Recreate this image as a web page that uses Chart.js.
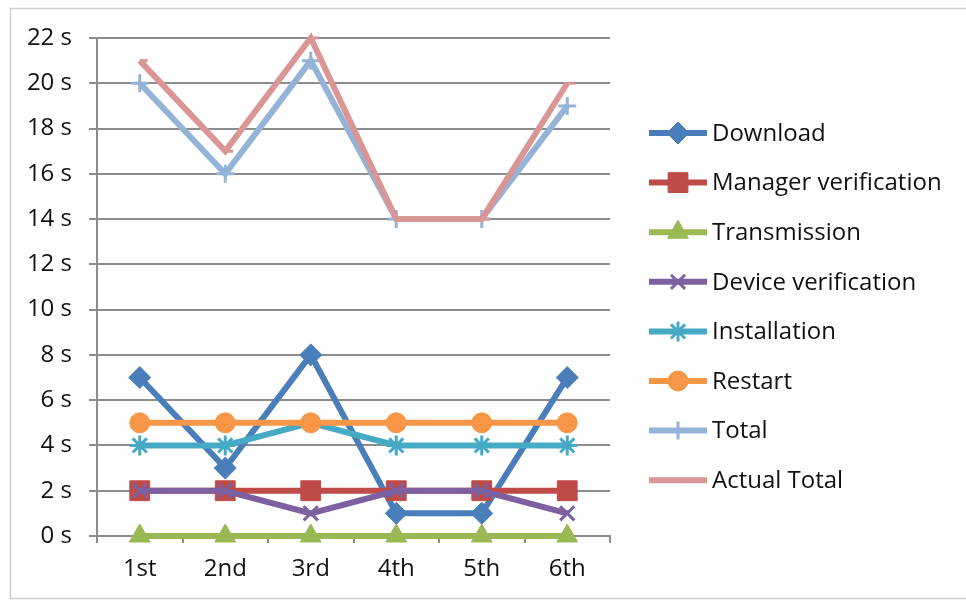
<!DOCTYPE html>
<html>
<head>
<meta charset="utf-8">
<script src="https://cdn.jsdelivr.net/npm/chart.js@4"></script>
<style>
  html, body { margin: 0; padding: 0; background: #fff; }
  #wrap { width: 966px; height: 603px; position: relative; }
</style>
</head>
<body>
<div id="wrap"><canvas id="myChart" width="966" height="603"></canvas></div>
<script>
const categories = ["1st", "2nd", "3rd", "4th", "5th", "6th"];
const download = [7, 3, 8, 1, 1, 7];
const managerVerification = [2, 2, 2, 2, 2, 2];
const transmission = [0, 0, 0, 0, 0, 0];
const deviceVerification = [2, 2, 1, 2, 2, 1];
const installation = [4, 4, 5, 4, 4, 4];
const restart = [5, 5, 5, 5, 5, 5];
const total = [20, 16, 21, 14, 14, 19];
const actualTotal = [21, 17, 22, 14, 14, 20];

const FONT = "'Open Sans', Lato, sans-serif";

const series = [
  { label: "Download", data: download, color: "#4a7ebb", style: "rectRot", r: 11 },
  { label: "Manager verification", data: managerVerification, color: "#be4b48", style: "rect", r: 14 },
  { label: "Transmission", data: transmission, color: "#98b954", style: "triangle", r: 12 },
  { label: "Device verification", data: deviceVerification, color: "#7d60a0", style: "crossRot", r: 10 },
  { label: "Installation", data: installation, color: "#46aac5", style: "star", r: 10 },
  { label: "Restart", data: restart, color: "#f79646", style: "circle", r: 10 },
  { label: "Total", data: total, color: "#95b3d7", style: "cross", r: 9 },
  { label: "Actual Total", data: actualTotal, color: "#d99694", style: "dash", r: 8 },
];

const thinMarkers = ["crossRot", "star", "cross", "dash"];

// legend on the right, line + marker like the office chart
const sideLegend = {
  id: "sideLegend",
  afterDraw(chart) {
    const ctx = chart.ctx;
    ctx.save();
    // outer frame
    ctx.strokeStyle = "#d0d0d0";
    ctx.lineWidth = 1.5;
    ctx.strokeRect(10.5, 8.5, 970, 590);
    series.forEach((s, i) => {
      const y = 133 + i * 49.6;
      ctx.strokeStyle = s.color;
      ctx.lineWidth = 6;
      ctx.beginPath();
      ctx.moveTo(649, y);
      ctx.lineTo(707, y);
      ctx.stroke();
      ctx.fillStyle = s.color;
      const bw = thinMarkers.includes(s.style) ? 3 : 1;
      ctx.lineWidth = bw;
      Chart.helpers.drawPoint(ctx, { pointStyle: s.style, radius: s.r, borderWidth: bw }, 678, y);
      ctx.fillStyle = "#111";
      ctx.font = "24px " + FONT;
      ctx.textBaseline = "middle";
      ctx.textAlign = "left";
      ctx.fillText(s.label, 712, y + 1);
    });
    ctx.restore();
  },
};

const chart = new Chart(document.getElementById("myChart"), {
  type: "line",
  data: {
    labels: categories,
    datasets: series.map((s, i) => ({
      label: s.label,
      data: s.data,
      borderColor: s.color,
      backgroundColor: s.color,
      borderWidth: 6,
      pointStyle: s.style,
      pointRadius: s.r,
      pointBorderWidth: thinMarkers.includes(s.style) ? 3 : 1,
      pointBorderColor: s.color,
      pointBackgroundColor: s.color,
      fill: false,
      tension: 0,
      clip: false,
      order: series.length - i,
    })),
  },
  options: {
    responsive: false,
    animation: false,
    layout: { padding: { top: 38, right: 356, bottom: 0, left: 0 } },
    scales: {
      x: {
        offset: true,
        grid: {
          offset: true,
          drawOnChartArea: false,
          drawTicks: true,
          tickLength: 7,
          color: "#8c8c8c",
          lineWidth: 2,
        },
        border: { color: "#8c8c8c", width: 2 },
        ticks: {
          color: "#111",
          padding: 12,
          font: { family: FONT, size: 24 },
          maxRotation: 0,
        },
        afterFit: (scale) => { scale.height = 67; },
      },
      y: {
        min: 0,
        max: 22,
        grid: {
          color: "#8c8c8c",
          lineWidth: 2,
          tickLength: 8,
        },
        border: { color: "#8c8c8c", width: 2 },
        ticks: {
          stepSize: 2,
          color: "#111",
          padding: 17,
          font: { family: FONT, size: 24 },
          callback: (value) => `${value} s`,
        },
        afterFit: (scale) => { scale.width = 97; },
      },
    },
    plugins: {
      legend: { display: false },
      tooltip: { enabled: false },
    },
  },
  plugins: [sideLegend],
});
</script>
</body>
</html>
